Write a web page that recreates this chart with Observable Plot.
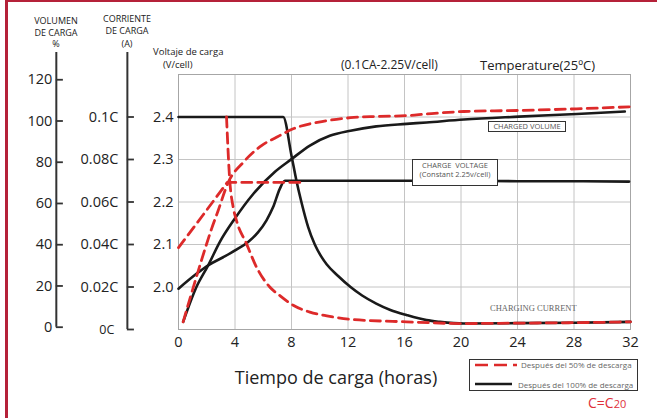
<!DOCTYPE html>
<html>
<head>
<meta charset="utf-8">
<script src="https://cdn.jsdelivr.net/npm/d3@7"></script>
<script src="https://cdn.jsdelivr.net/npm/@observablehq/plot@0.6"></script>
<style>
  html, body { margin: 0; padding: 0; background: #fff; }
  #wrap { position: relative; width: 657px; height: 418px; overflow: hidden; background: #fff; font-family: "Open Sans", "Noto Sans", sans-serif; color: #222; }
  #chart { position: absolute; left: 0; top: 0; }
  .t { position: absolute; white-space: nowrap; line-height: 1; transform: translateY(-50%); }
  .c { transform: translate(-50%, -50%); text-align: center; }
  .box { position: absolute; background: #fff; border: 1px solid #333; color: #555; font-size: 7.5px; line-height: 9px; text-align: center; white-space: nowrap; }
</style>
</head>
<body>
<div id="wrap">
  <div id="chart"></div>
  <div style="position:absolute;left:5px;top:0;width:3px;height:418px;background:#b52139"></div>
  <div style="position:absolute;left:5px;top:0;width:652px;height:2px;background:#b52139"></div>

  <div class="t c" style="left:56px;top:20px;font-size:9px">VOLUMEN</div>
  <div class="t c" style="left:56px;top:31.5px;font-size:9px">DE CARGA</div>
  <div class="t c" style="left:56px;top:43px;font-size:9px">%</div>
  <div class="t c" style="left:127px;top:18px;font-size:9px">CORRIENTE</div>
  <div class="t c" style="left:127px;top:29.5px;font-size:9px">DE CARGA</div>
  <div class="t c" style="left:127px;top:43px;font-size:9px">(A)</div>
  <div class="t" style="left:153px;top:52px;font-size:9.5px">Voltaje de carga</div>
  <div class="t" style="left:163px;top:65px;font-size:9.5px">(V/cell)</div>
  <div class="t" style="left:341px;top:65px;font-size:12px">(0.1CA-2.25V/cell)</div>
  <div class="t" style="left:480px;top:65px;font-size:13px">Temperature(25ºC)</div>
  <div class="t c" style="left:336px;top:377px;font-size:18px">Tiempo de carga (horas)</div>

  <div class="box" style="left:488px;top:121px;width:76px;height:9px;">CHARGED VOLUME</div>
  <div class="box" style="left:412px;top:159px;width:84px;height:24px;padding-top:1px;box-sizing:content-box;">CHARGE&nbsp; VOLTAGE<br>(Constant 2.25v/cell)</div>
  <div class="t" style="left:490px;top:308px;font-size:8.5px;font-family:'Liberation Serif','DejaVu Serif',serif;color:#666">CHARGING CURRENT</div>

  <div style="position:absolute;left:469px;top:359px;width:167px;height:30px;border:1.5px solid #333;background:#fff"></div>
  <svg style="position:absolute;left:470px;top:360px" width="50" height="30">
    <line x1="5" y1="5" x2="47" y2="5" stroke="#dd2a2a" stroke-width="2.5" stroke-dasharray="13,6"></line>
    <line x1="5" y1="24" x2="42" y2="24" stroke="#1a1a1a" stroke-width="2.5"></line>
  </svg>
  <div class="t" style="left:521px;top:365px;font-size:8px;color:#666">Después del 50% de descarga</div>
  <div class="t" style="left:518px;top:385px;font-size:8px;color:#666">Después del 100% de descarga</div>
  <div class="t" style="left:588px;top:403px;font-size:14px;color:#e0303a">C=C<span style="font-size:11px">20</span></div>
</div>
<script>
// ---- tick values / labels ----
const xTicks = [0, 4, 8, 12, 16, 20, 24, 28, 32];
const voltTicks = [2.0, 2.1, 2.2, 2.3, 2.4];
const volTicks = [0, 20, 40, 60, 80, 100, 120];
const curTicks = [0, 0.02, 0.04, 0.06, 0.08, 0.1];
const curLabels = ["0C", "0.02C", "0.04C", "0.06C", "0.08C", "0.1C"];

// ---- Después del 100% de descarga (black, solid) ----
const blackVoltHours = [0, 1.27, 2.1, 3.16, 4.1, 4.93, 5.64, 6.23, 6.7, 7.17, 7.53, 12, 16, 20, 24, 28, 31.9];
const blackVolt = [1.996, 2.031, 2.051, 2.07, 2.088, 2.106, 2.129, 2.157, 2.188, 2.231, 2.25, 2.25, 2.25, 2.25, 2.249, 2.249, 2.248];
const blackCurHours = [0, 7.41, 8.0, 8.35, 8.7, 9.18, 9.65, 10.1, 10.5, 11.3, 12.18, 13.0, 14.0, 15.0, 16.14, 17.56, 18.5, 20.2, 24, 28, 32];
const blackCur = [0.1, 0.1, 0.0818, 0.07, 0.06, 0.0482, 0.04, 0.0344, 0.0306, 0.0252, 0.02, 0.016, 0.0122, 0.0092, 0.0068, 0.0044, 0.0036, 0.0028, 0.003, 0.0032, 0.0036];
const blackVolHours = [0.33, 1.27, 2.1, 2.92, 3.99, 5.29, 6.85, 8.0, 9.3, 10.71, 12.18, 14.0, 16.14, 17.56, 20.2, 24.1, 28.2, 31.6];
const blackVol = [2.6, 19.5, 30.0, 41.3, 52.7, 64.6, 75.5, 81.5, 88.1, 92.8, 95.3, 97.4, 98.6, 99.3, 100.7, 102.1, 103.4, 104.6];

// ---- Después del 50% de descarga (red, dashed) ----
const redVoltHours = [0, 1.75, 3.45, 8.87];
const redVolt = [2.0925, 2.17, 2.246, 2.246];
const redCurHours = [3.4, 3.63, 3.87, 4.1, 4.81, 5.52, 6.46, 7.17, 8.12, 9.3, 10.5, 12.18, 16.14, 20.2, 24, 28, 32];
const redCur = [0.1, 0.07, 0.0576, 0.0514, 0.0404, 0.0294, 0.02, 0.016, 0.0114, 0.0082, 0.0064, 0.0048, 0.0036, 0.0028, 0.003, 0.0032, 0.0036];
const redVolHours = [0.33, 0.92, 1.63, 2.34, 2.81, 3.52, 4.58, 5.88, 6.94, 8.12, 10.48, 12.18, 14.0, 16.14, 17.56, 20.2, 24, 28.2, 32];
const redVol = [2.6, 16.4, 32.5, 47.7, 56.6, 70.2, 79.9, 88.1, 92.1, 96.2, 100.1, 101.6, 102.2, 102.6, 103.4, 104.6, 105.1, 105.9, 106.9];

// secondary axes share the voltage (y) scale
const volToV = v => 1.9054 + v * 0.004852;
const curToV = c => 1.9 + c * 5;

// horizontal placement of the two extra left axes, in hours-equivalent
const volAxisAt = -8.65;
const curAxisAt = -3.62;
const axisTop = 2.552;

const zip = (xs, ys, f = d => d) => xs.map((x, i) => ({x, y: f(ys[i])}));

const black = "#1a1a1a", red = "#dd2a2a";
const lineOpts = {x: "x", y: "y", curve: "monotone-x", strokeWidth: 2.6};

const chart = Plot.plot({
  width: 657,
  height: 418,
  marginLeft: 178,
  marginRight: 27,
  marginTop: 74,
  marginBottom: 89,
  style: {fontFamily: '"Open Sans", "Noto Sans", sans-serif', color: "#222", background: "transparent"},
  x: {domain: [0, 32]},
  y: {domain: [1.9, 2.5]},
  marks: [
    Plot.gridX(xTicks.slice(1, -1), {stroke: "#c4c4c4", strokeOpacity: 1}),
    Plot.gridY(voltTicks, {stroke: "#c4c4c4", strokeOpacity: 1}),
    Plot.frame({stroke: "#a6a6a6"}),
    Plot.axisX(xTicks, {tickSize: 0, tickPadding: 7, fontSize: 14.5, label: null}),
    Plot.axisY(voltTicks, {tickSize: 0, tickPadding: 5, fontSize: 14.5, tickFormat: d => d.toFixed(1), label: null}),

    // volume axis (%)
    Plot.ruleX([volAxisAt], {y1: volToV(0), y2: axisTop, stroke: "#333", strokeWidth: 2}),
    Plot.ruleY(volTicks, {y: volToV, x1: volAxisAt, x2: volAxisAt + 0.5, stroke: "#333", strokeWidth: 1.8}),
    Plot.text(volTicks, {x: volAxisAt, y: volToV, text: d => String(d), textAnchor: "end", dx: -4, fontSize: 14.5}),

    // current axis (A)
    Plot.ruleX([curAxisAt], {y1: curToV(0), y2: axisTop, stroke: "#333", strokeWidth: 2}),
    Plot.ruleY(curTicks, {y: curToV, x1: curAxisAt, x2: curAxisAt + 0.5, stroke: "#333", strokeWidth: 1.8}),
    Plot.text(curTicks.slice(1), {x: curAxisAt, y: curToV, text: (d, i) => curLabels[i + 1], textAnchor: "end", dx: -9, fontSize: 14.5}),
    Plot.text(curTicks.slice(0, 1), {x: curAxisAt, y: curToV, text: (d, i) => curLabels[i], textAnchor: "end", dx: -13, fontSize: 12.5}),

    // black (100%)
    Plot.line(zip(blackVoltHours, blackVolt), {...lineOpts, stroke: black}),
    Plot.line(zip(blackCurHours, blackCur, curToV), {...lineOpts, stroke: black}),
    Plot.line(zip(blackVolHours, blackVol, volToV), {...lineOpts, stroke: black}),

    // red (50%)
    Plot.line(zip(redVoltHours, redVolt), {x: "x", y: "y", stroke: red, strokeWidth: 2.8, strokeDasharray: "10,6"}),
    Plot.line(zip(redCurHours, redCur, curToV), {...lineOpts, stroke: red, strokeWidth: 2.8, strokeDasharray: "10,6"}),
    Plot.line(zip(redVolHours, redVol, volToV), {...lineOpts, stroke: red, strokeWidth: 2.8, strokeDasharray: "10,6"})
  ]
});
document.getElementById("chart").appendChild(chart);
</script>
</body>
</html>
